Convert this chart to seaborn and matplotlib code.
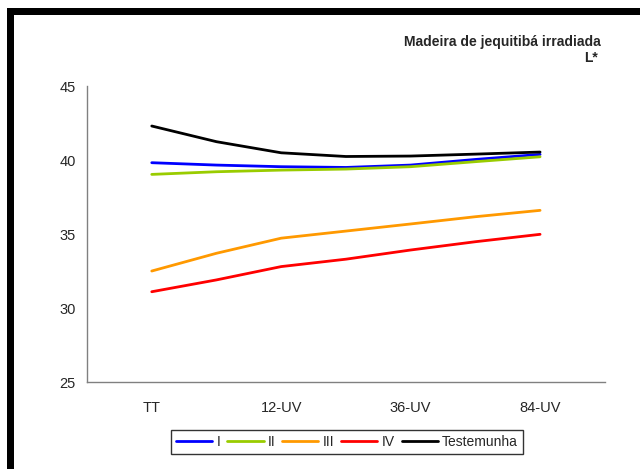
import numpy as np
import pandas as pd
import matplotlib
matplotlib.use("Agg")
import matplotlib.pyplot as plt
import seaborn as sns
from matplotlib.patches import Rectangle

# Data (7 measurement points, every other one labelled)
positions = [0, 1, 2, 3, 4, 5, 6]
tick_positions = [0, 2, 4, 6]
tick_labels = ["TT", "12-UV", "36-UV", "84-UV"]
series_names = ["I", "II", "III", "IV", "Testemunha"]
serie_I = [39.82, 39.66, 39.55, 39.50, 39.66, 40.04, 40.38]
serie_II = [39.03, 39.21, 39.32, 39.39, 39.55, 39.89, 40.22]
serie_III = [32.50, 33.70, 34.72, 35.20, 35.68, 36.17, 36.60]
serie_IV = [31.10, 31.90, 32.80, 33.30, 33.92, 34.48, 34.98]
serie_T = [42.30, 41.24, 40.49, 40.24, 40.27, 40.40, 40.54]
colors = ["#0000FF", "#99CC00", "#FF9900", "#FF0000", "#000000"]

rows = []
for name, vals in zip(series_names, [serie_I, serie_II, serie_III, serie_IV, serie_T]):
    for p, v in zip(positions, vals):
        rows.append({"pos": p, "L": v, "serie": name})
df = pd.DataFrame(rows)

sns.set_style("white")
plt.rcParams["font.family"] = ["Liberation Sans", "DejaVu Sans"]

fig = plt.figure(figsize=(6.4, 4.69), dpi=100)
ax = fig.add_axes([0.136, 0.1855, 0.809, 0.631])

sns.lineplot(data=df, x="pos", y="L", hue="serie", hue_order=series_names,
             palette=colors, linewidth=2.0, ax=ax, legend=True)

ax.set_xlim(-1, 7)
ax.set_ylim(25, 45)
ax.set_yticks([25, 30, 35, 40, 45])
ax.set_xticks([-1, 1, 3, 5, 7])
ax.set_xticklabels([])
ax.set_xticks(tick_positions, minor=True)
ax.set_xticklabels(tick_labels, minor=True)
ax.tick_params(axis="x", which="minor", length=0, pad=14, labelsize=10.5)
ax.tick_params(axis="x", which="major", length=5, direction="out", color="#808080", width=1)
ax.tick_params(axis="y", length=4, direction="out", color="#808080", width=1, labelsize=10.5, pad=4)
ax.set_xlabel("")
ax.set_ylabel("")
for s in ["top", "right"]:
    ax.spines[s].set_visible(False)
for s in ["left", "bottom"]:
    ax.spines[s].set_color("#808080")
    ax.spines[s].set_linewidth(1.0)

handles, labels = ax.get_legend_handles_labels()
ax.legend(handles, labels, loc="center", bbox_to_anchor=(347 / 640, 1 - 442 / 469),
          bbox_transform=fig.transFigure, ncol=5, frameon=True, fancybox=False,
          edgecolor="black", fontsize=10, handlelength=2.6, handletextpad=0.3,
          columnspacing=0.5, borderpad=0.35)
leg = ax.get_legend()
leg.get_frame().set_linewidth(1.0)

fig.text(601 / 640, 1 - 42 / 469, "Madeira de jequitibá irradiada", ha="right", va="center",
         fontsize=10, fontweight="bold")
fig.text(598 / 640, 1 - 58 / 469, "L*", ha="right", va="center", fontsize=10, fontweight="bold")

# black frame (left and top)
fig.add_artist(Rectangle((7 / 640, 0), 7 / 640, 1 - 8 / 469, transform=fig.transFigure,
                         facecolor="black", edgecolor="none"))
fig.add_artist(Rectangle((7 / 640, 1 - 15 / 469), 1, 7 / 469, transform=fig.transFigure,
                         facecolor="black", edgecolor="none"))

fig.savefig("out.png", dpi=100)
